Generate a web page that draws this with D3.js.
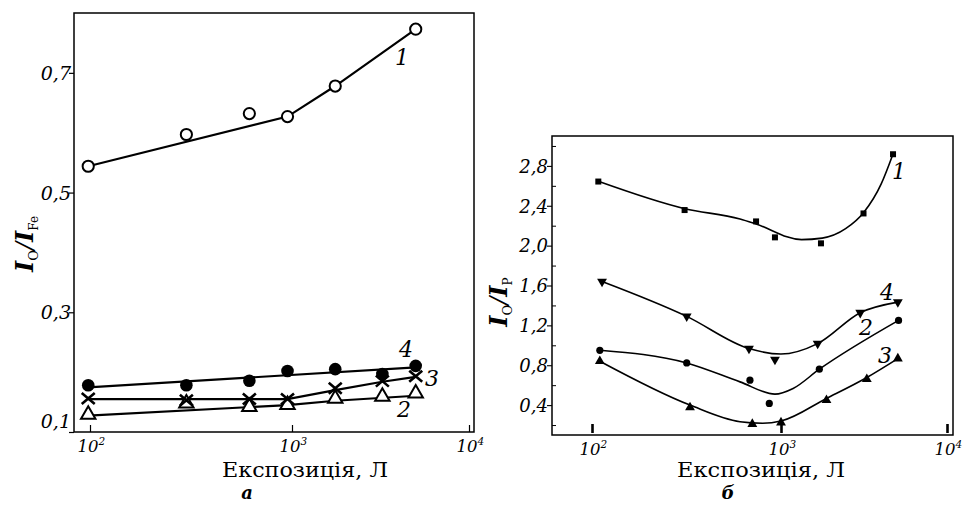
<!DOCTYPE html>
<html><head><meta charset="utf-8">
<script src="https://cdn.jsdelivr.net/npm/d3@7"></script>
<style>body{margin:0;background:#fff} svg{display:block}</style>
</head><body><svg id="c" width="966" height="507"></svg>
<script>
// ---------- Panel а (I_O / I_Fe) ----------
const aX1 = [98, 300, 615, 950, 1755, 5000];
const aY1 = [0.544, 0.597, 0.632, 0.627, 0.678, 0.773];
const aX = [98, 300, 615, 950, 1755, 3240, 5000];
const aY2 = [0.129, 0.148, 0.142, 0.1455, 0.156, 0.159, 0.1645];
const aY3 = [0.156, 0.153, 0.155, 0.155, 0.173, 0.185, 0.193];
const aY4 = [0.178, 0.178, 0.1855, 0.202, 0.205, 0.197, 0.2105];
// fitted line nodes
const aLine1X = [98, 950, 1755, 5000], aLine1Y = [0.544, 0.627, 0.678, 0.773];
const aLine2X = [98, 950, 1755, 5000], aLine2Y = [0.1272, 0.145, 0.1522, 0.1606];
const aLine3X = [98, 950, 1755, 3240, 5000], aLine3Y = [0.155, 0.155, 0.17, 0.184, 0.192];
const aLine4X = [98, 5000], aLine4Y = [0.1745, 0.208];
const aYTicks = [0.1, 0.3, 0.5, 0.7];
const xTickExp = [2, 3, 4];
const seriesLabels = ["1", "2", "3", "4"];

// ---------- Panel б (I_O / I_P) ----------
const bX1 = [108, 309, 738, 929, 1741, 3141, 4730];
const bY1 = [2.643, 2.357, 2.243, 2.083, 2.023, 2.323, 2.917];
const bX2 = [110, 317, 685, 867, 1702, 5107];
const bY2 = [0.95, 0.823, 0.65, 0.417, 0.76, 1.25];
const bX3 = [110, 330, 705, 1000, 1879, 3288, 5057];
const bY3 = [0.84, 0.377, 0.21, 0.225, 0.45, 0.66, 0.867];
const bX4 = [113, 317, 677, 929, 1663, 3002, 5057];
const bY4 = [1.64, 1.29, 0.967, 0.857, 1.017, 1.327, 1.433];
// smooth fit curve nodes
const bFit1X = [108, 310, 607, 738, 1330, 1770, 2450, 3140, 4015, 4730];
const bFit1Y = [2.645, 2.37, 2.267, 2.217, 2.06, 2.075, 2.17, 2.33, 2.62, 2.92];
const bFit2X = [110, 317, 607, 929, 1183, 1702, 5107];
const bFit2Y = [0.95, 0.823, 0.633, 0.51, 0.567, 0.76, 1.25];
const bFit3X = [110, 330, 607, 800, 1000, 1879, 3288, 5057];
const bFit3Y = [0.84, 0.40, 0.233, 0.218, 0.24, 0.467, 0.677, 0.867];
const bFit4X = [113, 317, 677, 1000, 1663, 3002, 5057];
const bFit4Y = [1.64, 1.29, 0.967, 0.912, 1.017, 1.327, 1.433];
const bYTicks = [0.4, 0.8, 1.2, 1.6, 2.0, 2.4, 2.8];
const bYMinor = [0.2, 0.6, 1.0, 1.4, 1.8, 2.2, 2.6, 3.0];

const svg = d3.select("#c");
const NUM = "DejaVu Serif";
const fmt = d => d3.format(".1f")(d).replace(".", ",");
const zip = (xs, ys) => xs.map((x, i) => [x, ys[i]]);

// ---------------- Panel а ----------------
const A = {l: 74, r: 474, t: 13, b: 432};
const ax = d3.scaleLog().domain([83.3, 100, 1000, 10000]).range([74, 90, 292, 469]);
const ay = d3.scaleLinear().domain([0.1, 0.8]).range([A.b, A.t]);
const ga = svg.append("g");
ga.append("rect").attr("x", A.l).attr("y", A.t).attr("width", A.r - A.l).attr("height", A.b - A.t)
  .attr("fill", "none").attr("stroke", "#000").attr("stroke-width", 1.5);

// y axis
const gay = ga.append("g").attr("transform", `translate(${A.l},0)`)
  .call(d3.axisLeft(ay).tickValues(aYTicks).tickSize(5).tickFormat(""));
gay.select(".domain").remove();
gay.selectAll(".tick line").attr("stroke-width", 1.2);
gay.selectAll(".tick").each(function(d, i) {
  d3.select(this).append("text").attr("x", -3).attr("dy", i === 0 ? "-0.25em" : "0.35em")
    .attr("text-anchor", "end").attr("font-family", NUM).attr("font-style", "italic")
    .attr("font-size", 19).attr("fill", "#000").text(fmt(d));
});
// x axis
function xLabels(g) {
  g.selectAll(".tick").each(function(d) {
    const t = d3.select(this).append("text").attr("x", -13).attr("y", 0)
      .attr("font-family", NUM).attr("font-style", "italic").attr("fill", "#000").attr("text-anchor", "start");
    t.append("tspan").attr("font-size", 16.5).attr("dy", 20).text("10");
    t.append("tspan").attr("font-size", 10.5).attr("dy", -7).text(String(Math.round(Math.log10(d))));
  });
}
const gax = ga.append("g").attr("transform", `translate(0,${A.b})`)
  .call(d3.axisBottom(ax).tickValues(xTickExp.map(e => Math.pow(10, e))).tickSize(-7).tickFormat(""));
gax.select(".domain").remove();
gax.selectAll(".tick line").attr("stroke-width", 1.2);
xLabels(gax);

const aline = d3.line().x(d => ax(d[0])).y(d => ay(d[1]));
[[aLine1X, aLine1Y], [aLine2X, aLine2Y], [aLine3X, aLine3Y], [aLine4X, aLine4Y]].forEach(([xs, ys]) => {
  ga.append("path").attr("d", aline(zip(xs, ys))).attr("fill", "none").attr("stroke", "#000").attr("stroke-width", 2.2);
});
// markers
ga.selectAll("circle.s1").data(zip(aX1, aY1)).join("circle")
  .attr("cx", d => ax(d[0])).attr("cy", d => ay(d[1])).attr("r", 5.6)
  .attr("fill", "#fff").attr("stroke", "#000").attr("stroke-width", 2);
ga.selectAll("circle.s4").data(zip(aX, aY4)).join("circle")
  .attr("cx", d => ax(d[0])).attr("cy", d => ay(d[1])).attr("r", 6.3);
const triUp = d3.symbol().type(d3.symbolTriangle);
ga.selectAll("path.s2").data(zip(aX, aY2)).join("path")
  .attr("transform", d => `translate(${ax(d[0])},${ay(d[1])})`).attr("d", triUp.size(90)())
  .attr("fill", "#fff").attr("stroke", "#000").attr("stroke-width", 2);
ga.selectAll("path.s3").data(zip(aX, aY3)).join("path")
  .attr("transform", d => `translate(${ax(d[0])},${ay(d[1])})`).attr("d", "M-6.5,-5.5L6.5,5.5M-6.5,5.5L6.5,-5.5")
  .attr("fill", "none").attr("stroke", "#000").attr("stroke-width", 2.6);
// curve labels
const aLabPos = [[402, 65], [404, 417], [432, 386], [406, 357]];
seriesLabels.forEach((s, i) => ga.append("text").attr("x", aLabPos[i][0]).attr("y", aLabPos[i][1])
  .attr("text-anchor", "middle").attr("font-family", NUM).attr("font-style", "italic").attr("font-size", 22).text(s));

// titles
ga.append("text").attr("x", 305).attr("y", 477).attr("text-anchor", "middle").attr("font-family", NUM)
  .attr("font-size", 20).attr("textLength", 166).attr("lengthAdjust", "spacingAndGlyphs").text("Експозиція, Л");
ga.append("text").attr("x", 247).attr("y", 499).attr("text-anchor", "middle").attr("font-family", NUM)
  .attr("font-style", "italic").attr("font-weight", "bold").attr("font-size", 18).text("а");
function yTitle(g, x, y, sub2) {
  const t = g.append("text").attr("transform", `translate(${x},${y}) rotate(-90)`).attr("text-anchor", "middle")
    .attr("font-family", NUM).attr("fill", "#000");
  t.append("tspan").attr("font-style", "italic").attr("font-weight", "bold").attr("font-size", 24).text("I");
  t.append("tspan").attr("font-size", 13).attr("dy", 5).text("O");
  t.append("tspan").attr("font-style", "italic").attr("font-size", 24).attr("dy", -5).text("/");
  t.append("tspan").attr("font-style", "italic").attr("font-weight", "bold").attr("font-size", 24).text("I");
  t.append("tspan").attr("font-size", 12).attr("dy", 5).text(sub2);
}
yTitle(ga, 33, 244, "Fe");

// ---------------- Panel б ----------------
const B = {l: 552, r: 953, t: 136, b: 435};
const bx = d3.scaleLog().domain([61.4, 100, 1000, 10000]).range([552, 592, 781, 947]);
const by = d3.scaleLinear().domain([0.1, 3.1]).range([B.b, B.t]);
const gb = svg.append("g");
gb.append("rect").attr("x", B.l).attr("y", B.t).attr("width", B.r - B.l).attr("height", B.b - B.t)
  .attr("fill", "none").attr("stroke", "#000").attr("stroke-width", 1.5);
const gby = gb.append("g").attr("transform", `translate(${B.l},0)`)
  .call(d3.axisLeft(by).tickValues(bYTicks).tickSize(5).tickFormat(""));
gby.select(".domain").remove();
gby.selectAll(".tick line").attr("stroke-width", 1.1);
gby.selectAll(".tick").each(function(d) {
  d3.select(this).append("text").attr("x", -4).attr("dy", "0.35em").attr("text-anchor", "end")
    .attr("font-family", NUM).attr("font-style", "italic").attr("font-size", 18).attr("fill", "#000").text(fmt(d));
});
const gbym = gb.append("g").attr("transform", `translate(${B.l},0)`)
  .call(d3.axisLeft(by).tickValues(bYMinor).tickSize(-4).tickFormat(""));
gbym.select(".domain").remove();
const gbx = gb.append("g").attr("transform", `translate(0,${B.b})`)
  .call(d3.axisBottom(bx).tickValues(xTickExp.map(e => Math.pow(10, e))).tickSize(-10).tickFormat(""));
gbx.select(".domain").remove();
gbx.selectAll(".tick line").attr("stroke", "#000").attr("stroke-width", 2.6).attr("y1", -2).attr("y2", -11);
xLabels(gbx);

const bline = d3.line().x(d => bx(d[0])).y(d => by(d[1])).curve(d3.curveMonotoneX);
[[bFit1X, bFit1Y], [bFit2X, bFit2Y], [bFit3X, bFit3Y], [bFit4X, bFit4Y]].forEach(([xs, ys]) => {
  gb.append("path").attr("d", bline(zip(xs, ys))).attr("fill", "none").attr("stroke", "#000").attr("stroke-width", 1.6);
});
gb.selectAll("rect.s1").data(zip(bX1, bY1)).join("rect")
  .attr("x", d => bx(d[0]) - 3).attr("y", d => by(d[1]) - 3).attr("width", 6).attr("height", 6);
gb.selectAll("circle.s2").data(zip(bX2, bY2)).join("circle")
  .attr("cx", d => bx(d[0])).attr("cy", d => by(d[1])).attr("r", 3.6);
gb.selectAll("path.s3").data(zip(bX3, bY3)).join("path")
  .attr("transform", d => `translate(${bx(d[0])},${by(d[1])})`).attr("d", d3.symbol().type(d3.symbolTriangle).size(42)());
gb.selectAll("path.s4").data(zip(bX4, bY4)).join("path")
  .attr("transform", d => `translate(${bx(d[0])},${by(d[1])}) rotate(180)`).attr("d", d3.symbol().type(d3.symbolTriangle).size(42)());
const bLabPos = [[899, 179], [866, 335], [885, 363], [887, 300]];
seriesLabels.forEach((s, i) => gb.append("text").attr("x", bLabPos[i][0]).attr("y", bLabPos[i][1])
  .attr("text-anchor", "middle").attr("font-family", NUM).attr("font-style", "italic").attr("font-size", 22).text(s));
gb.append("text").attr("x", 761).attr("y", 477).attr("text-anchor", "middle").attr("font-family", NUM)
  .attr("font-size", 20).attr("textLength", 168).attr("lengthAdjust", "spacingAndGlyphs").text("Експозиція, Л");
gb.append("text").attr("x", 728).attr("y", 499).attr("text-anchor", "middle").attr("font-family", NUM)
  .attr("font-style", "italic").attr("font-weight", "bold").attr("font-size", 18).text("б");
yTitle(gb, 507, 302, "P");
</script></body></html>
